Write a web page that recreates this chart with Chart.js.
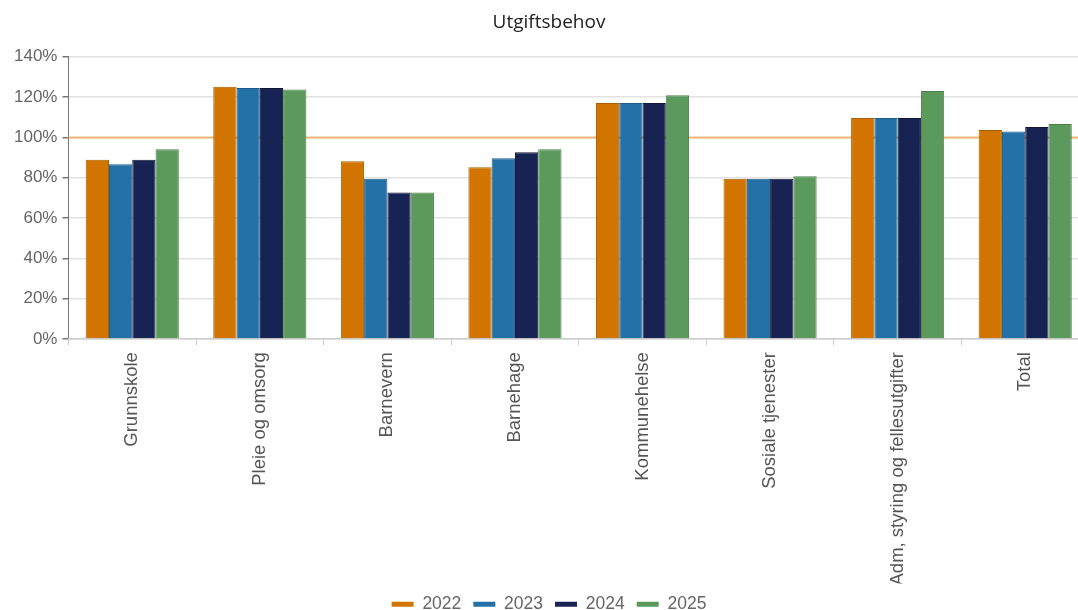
<!DOCTYPE html>
<html>
<head>
<meta charset="utf-8">
<script src="https://cdn.jsdelivr.net/npm/chart.js@4.4.1/dist/chart.umd.min.js"></script>
<style>
  html, body { margin: 0; padding: 0; background: #fff; overflow: hidden; }
  #wrap { position: relative; width: 1096px; height: 610px; }
</style>
</head>
<body>
<div id="wrap"><canvas id="chart"></canvas></div>
<script>
// Sectors and expense-need index (% of national average) per year
const categories = ['Grunnskole', 'Pleie og omsorg', 'Barnevern', 'Barnehage', 'Kommunehelse',
  'Sosiale tjenester', 'Adm, styring og fellesutgifter', 'Total'];
const years = ['2022', '2023', '2024', '2025'];
const values2022 = [89.0, 125.1, 88.2, 85.2, 117.1, 79.5, 109.6, 103.7];
const values2023 = [86.7, 124.5, 79.5, 89.7, 117.1, 79.5, 109.6, 103.0];
const values2024 = [89.0, 124.5, 72.7, 92.7, 117.1, 79.5, 109.6, 105.2];
const values2025 = [94.1, 123.8, 72.7, 94.1, 120.9, 80.8, 123.0, 106.7];
const yTicks = [0, 20, 40, 60, 80, 100, 120, 140];
const referenceLevel = 100;

const fills = ['#d27500', '#2471a8', '#172352', '#5c995c'];
const edges = ['#a85e00', '#1c5c8a', '#0f1838', '#4a7f4a'];
const series = [values2022, values2023, values2024, values2025];

const datasets = years.map((y, i) => ({
  label: y,
  data: series[i],
  backgroundColor: fills[i],
  borderColor: edges[i],
  borderWidth: 1,
  categoryPercentage: 0.73,
  barPercentage: 1.0
}));

// Horizontal reference line at 100 %
const referenceLine = {
  id: 'referenceLine',
  beforeDatasetsDraw(chart) {
    const { ctx, chartArea, scales } = chart;
    const y = scales.y.getPixelForValue(referenceLevel);
    ctx.save();
    ctx.strokeStyle = '#efb878';
    ctx.lineWidth = 2;
    ctx.beginPath();
    ctx.moveTo(chartArea.left, y);
    ctx.lineTo(chartArea.right, y);
    ctx.stroke();
    ctx.restore();
  }
};

new Chart(document.getElementById('chart'), {
  type: 'bar',
  data: { labels: categories, datasets },
  plugins: [referenceLine],
  options: {
    responsive: true,
    maintainAspectRatio: false,
    animation: false,
    layout: { padding: { left: 9, right: 7, top: 0, bottom: -13 } },
    plugins: {
      title: {
        display: true,
        text: 'Utgiftsbehov',
        color: '#222',
        font: { family: 'Open Sans', size: 19, weight: 'normal' },
        padding: { top: 11, bottom: 23 }
      },
      legend: {
        position: 'bottom',
        labels: {
          color: '#666',
          font: { family: 'Liberation Sans', size: 17.5 },
          boxWidth: 22,
          boxHeight: 5,
          padding: 12,
          generateLabels(chart) {
            return Chart.defaults.plugins.legend.labels.generateLabels(chart)
              .map(item => Object.assign(item, { lineWidth: 0 }));
          }
        }
      },
      tooltip: { enabled: false }
    },
    scales: {
      y: {
        min: 0,
        max: 140,
        afterBuildTicks(scale) { scale.ticks = yTicks.map(v => ({ value: v })); },
        ticks: {
          color: '#666',
          font: { family: 'Liberation Sans', size: 17 },
          padding: 5,
          callback: v => v + '%'
        },
        grid: { color: '#e2e2e2', tickColor: '#777', tickLength: 6, lineWidth: 1.5 },
        border: { color: '#777', width: 1 }
      },
      x: {
        afterFit(scale) { scale.height -= 9; },
        ticks: {
          color: '#555',
          font: { family: 'Liberation Sans', size: 18.5 },
          minRotation: 90,
          maxRotation: 90,
          padding: 7
        },
        grid: { drawOnChartArea: false, color: '#ccc', tickLength: 6, offset: true },
        border: { color: '#ccc', width: 1.5 }
      }
    }
  }
});
</script>
</body>
</html>
